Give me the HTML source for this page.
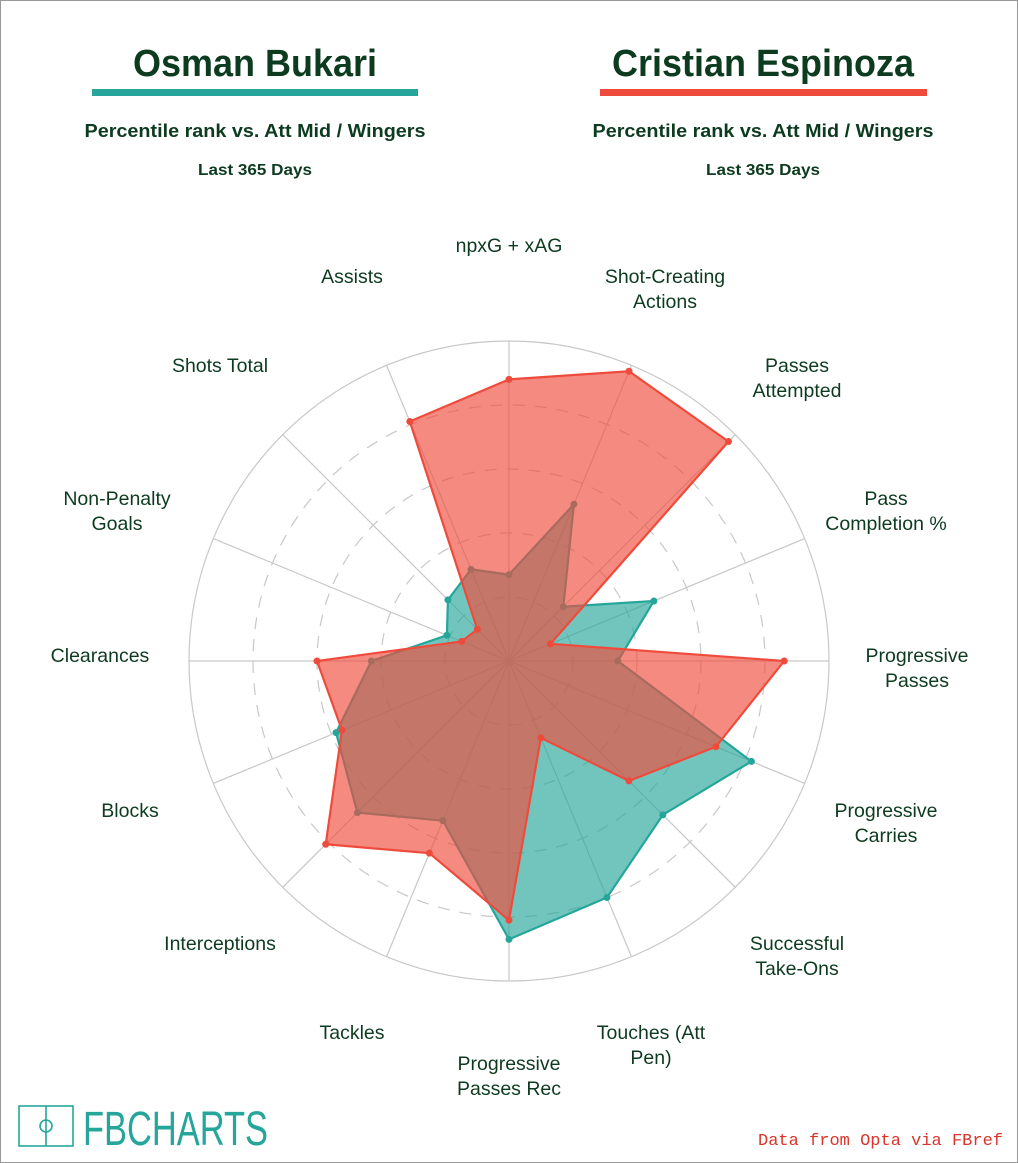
<!DOCTYPE html>
<html><head><meta charset="utf-8"><style>
html,body{margin:0;padding:0;background:#fff}
#w{position:relative;width:1016px;height:1161px;border:1px solid #999;overflow:hidden;font-family:"Liberation Sans",sans-serif}
</style></head><body><div id="w">
<svg width="1016" height="1161" style="position:absolute;left:-1px;top:-1px" xmlns="http://www.w3.org/2000/svg">
<text x="255" y="76" text-anchor="middle" font-family="Liberation Sans, sans-serif" font-weight="bold" font-size="38" fill="#0d3b1f" textLength="244" lengthAdjust="spacingAndGlyphs">Osman Bukari</text>
<rect x="92" y="89" width="326" height="7" fill="#26a69a"/>
<text x="763" y="76" text-anchor="middle" font-family="Liberation Sans, sans-serif" font-weight="bold" font-size="38" fill="#0d3b1f" textLength="302" lengthAdjust="spacingAndGlyphs">Cristian Espinoza</text>
<rect x="600" y="89" width="327" height="7" fill="#ef4b3c"/>
<g font-family="Liberation Sans, sans-serif" font-weight="bold" fill="#0d3b1f" text-anchor="middle">
<text x="255" y="137" font-size="18" textLength="341" lengthAdjust="spacingAndGlyphs">Percentile rank vs. Att Mid / Wingers</text>
<text x="763" y="137" font-size="18" textLength="341" lengthAdjust="spacingAndGlyphs">Percentile rank vs. Att Mid / Wingers</text>
<text x="255" y="175" font-size="16" textLength="114" lengthAdjust="spacingAndGlyphs">Last 365 Days</text>
<text x="763" y="175" font-size="16" textLength="114" lengthAdjust="spacingAndGlyphs">Last 365 Days</text>
</g>
<g id="grid" fill="none" stroke="#c8c8c8" stroke-width="1.2"></g>
<g id="data"></g>
<g font-family="Liberation Sans, sans-serif" font-size="19.5" fill="#0d3b1f" text-anchor="middle">
<text x="509" y="252">npxG + xAG</text>
<text x="665" y="283">Shot-Creating</text><text x="665" y="308">Actions</text>
<text x="797" y="372">Passes</text><text x="797" y="397">Attempted</text>
<text x="886" y="505">Pass</text><text x="886" y="530">Completion %</text>
<text x="917" y="662">Progressive</text><text x="917" y="687">Passes</text>
<text x="886" y="817">Progressive</text><text x="886" y="842">Carries</text>
<text x="797" y="950">Successful</text><text x="797" y="975">Take-Ons</text>
<text x="651" y="1039">Touches (Att</text><text x="651" y="1064">Pen)</text>
<text x="509" y="1070">Progressive</text><text x="509" y="1095">Passes Rec</text>
<text x="352" y="1039">Tackles</text>
<text x="220" y="950">Interceptions</text>
<text x="130" y="817">Blocks</text>
<text x="100" y="662">Clearances</text>
<text x="117" y="505">Non-Penalty</text><text x="117" y="530">Goals</text>
<text x="220" y="372">Shots Total</text>
<text x="352" y="283">Assists</text>
</g>
<g fill="none" stroke="#26a69a" stroke-width="1.6">
<rect x="19" y="1106" width="54" height="40"/>
<line x1="46" y1="1106" x2="46" y2="1146"/>
<circle cx="46" cy="1126" r="6"/>
</g>
<text x="83" y="1145" font-family="Liberation Sans Narrow, Liberation Sans, sans-serif" font-size="48" fill="#26a69a" textLength="185" lengthAdjust="spacingAndGlyphs">FBCHARTS</text>
<text x="1003" y="1145" text-anchor="end" font-family="Liberation Mono, monospace" font-size="16.5" fill="#d9342b" textLength="245" lengthAdjust="spacingAndGlyphs">Data from Opta via FBref</text>
</svg>
</div>
<script>
var cx=509,cy=661,R=320,ns="http://www.w3.org/2000/svg";
var g=document.getElementById('grid'),d=document.getElementById('data');
function el(p,t,a){var e=document.createElementNS(ns,t);for(var k in a)e.setAttribute(k,a[k]);p.appendChild(e);return e;}
el(g,'circle',{cx:cx,cy:cy,r:R});
[64,128,192,256].forEach(function(r){el(g,'circle',{cx:cx,cy:cy,r:r,'stroke-dasharray':'12,10'});});
for(var i=0;i<8;i++){var a=i*Math.PI/8;el(g,'line',{x1:cx+R*Math.sin(a),y1:cy-R*Math.cos(a),x2:cx-R*Math.sin(a),y2:cy+R*Math.cos(a)});}
var teal=[.27,.53,.24,.49,.34,.82,.68,.80,.87,.54,.67,.585,.43,.21,.27,.31];
var red=[.88,.98,.97,.14,.86,.70,.53,.26,.81,.65,.81,.565,.60,.16,.14,.81];
function draw(v,c){var pts=v.map(function(x,i){var a=i*Math.PI/8;return [cx+R*x*Math.sin(a),cy-R*x*Math.cos(a)];});
el(d,'polygon',{points:pts.map(function(p){return p.join(',')}).join(' '),fill:c,'fill-opacity':0.65,stroke:c,'stroke-width':2.2});
pts.forEach(function(p){el(d,'circle',{cx:p[0],cy:p[1],r:3.5,fill:c});});}
draw(teal,'#26a69a');draw(red,'#ef4b3c');
</script>
</body></html>
